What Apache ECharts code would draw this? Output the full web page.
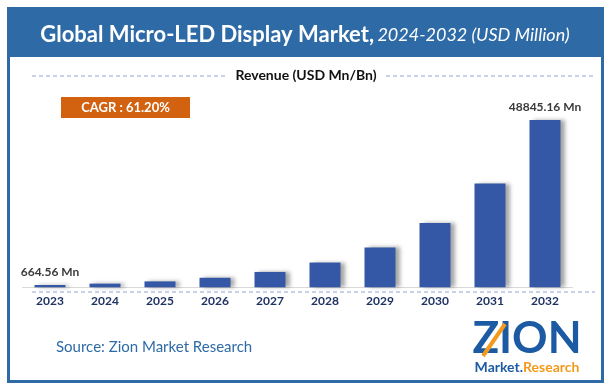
<!DOCTYPE html>
<html>
<head>
<meta charset="utf-8">
<script src="https://cdn.jsdelivr.net/npm/echarts@6/dist/echarts.min.js"></script>
<style>
html,body{margin:0;padding:0;background:#fff;}
#chart{width:612px;height:391px;}
</style>
</head>
<body>
<div id="chart"></div>
<script>
var years = ['2023','2024','2025','2026','2027','2028','2029','2030','2031','2032'];
var revenue = [664.56, 1071, 1727, 2784, 4488, 7234, 11661, 18798, 30302, 48845.16];
var labelTexts = ['664.56 Mn', '', '', '', '', '', '', '', '', '48845.16 Mn'];
var titleMain = 'Global Micro-LED Display Market,';
var titleSub = '2024-2032 (USD Million)';
var subtitle = 'Revenue (USD Mn/Bn)';
var cagrText = 'CAGR : 61.20%';
var sourceText = 'Source: Zion Market Research';

var FONT = 'Lato, "Open Sans", sans-serif';
var chart = echarts.init(document.getElementById('chart'), null, {renderer:'canvas'});

var seriesData = revenue.map(function(v, i){
  var d = {value: v};
  if (labelTexts[i]) {
    d.label = {show: true, formatter: labelTexts[i]};
  }
  return d;
});

chart.setOption({
  animation: false,
  backgroundColor: '#ffffff',
  grid: {left: 22.5, width: 550, top: 99, height: 188.3, containLabel: false},
  xAxis: {
    type: 'category',
    data: years,
    axisLine: {show: true, lineStyle: {color: '#D9D9D9', width: 1}},
    axisTick: {show: false},
    axisLabel: {margin: 8, color: '#1F3264', fontWeight: 'bold', fontSize: 12, fontFamily: FONT}
  },
  yAxis: {
    type: 'value', min: 0, max: 55000,
    show: false, splitLine: {show: false}
  },
  series: [{
    type: 'bar',
    data: seriesData,
    barWidth: 31,
    itemStyle: {
      color: '#3457A6',
      shadowColor: 'rgba(0,0,0,0.35)',
      shadowBlur: 4,
      shadowOffsetX: 4,
      shadowOffsetY: 0
    },
    label: {
      show: false, position: 'top', distance: 7,
      color: '#3A3A3A', fontWeight: 'bold', fontSize: 12, fontFamily: FONT
    }
  }],
  graphic: [
    {type: 'rect', shape: {x: 8, y: 8, width: 595, height: 49}, style: {fill: '#2E6BA6'}, z: 0},
    {type: 'rect', shape: {x: 8.5, y: 8.5, width: 594, height: 373}, style: {fill: null, stroke: '#2E6BA6', lineWidth: 3}, z: 1},
    {type: 'text', x: 305, y: 35, z: 2, style: {
      text: '{a|' + titleMain + '} {b|' + titleSub + '}',
      align: 'center', verticalAlign: 'middle',
      rich: {
        a: {fill: '#ffffff', fontWeight: 'bold', fontSize: 22, fontFamily: FONT},
        b: {fill: '#ffffff', fontStyle: 'italic', fontSize: 18, fontFamily: FONT}
      }
    }},
    {type: 'line', shape: {x1: 32, y1: 76, x2: 226, y2: 76}, style: {stroke: '#8FA6D6', lineWidth: 1, lineDash: [4, 3]}},
    {type: 'line', shape: {x1: 386, y1: 76, x2: 595, y2: 76}, style: {stroke: '#8FA6D6', lineWidth: 1, lineDash: [4, 3]}},
    {type: 'text', x: 306, y: 75, style: {
      text: subtitle, align: 'center', verticalAlign: 'middle',
      fill: '#111111', fontWeight: 'bold', fontSize: 14, fontFamily: FONT
    }},
    {type: 'rect', shape: {x: 61, y: 97, width: 129, height: 21}, style: {fill: '#D2620F'}},
    {type: 'text', x: 125.5, y: 108, style: {
      text: cagrText, align: 'center', verticalAlign: 'middle',
      fill: '#ffffff', fontWeight: 'bold', fontSize: 13, fontFamily: FONT
    }},
    {type: 'line', shape: {x1: 32, y1: 292, x2: 595, y2: 292}, style: {stroke: '#8FA6D6', lineWidth: 1, lineDash: [4, 3]}},
    {type: 'text', x: 56, y: 347, style: {
      text: sourceText, align: 'left', verticalAlign: 'middle',
      fill: '#2E6BA6', fontSize: 15, fontFamily: FONT
    }},
    {type: 'text', x: 527, y: 339, style: {
      text: 'ZION', align: 'center', verticalAlign: 'middle',
      fill: '#1C5AA3', fontWeight: 'bold', fontSize: 44, fontFamily: FONT
    }},
    {type: 'line', shape: {x1: 483, y1: 356, x2: 505, y2: 324}, style: {stroke: '#F39A1E', lineWidth: 4}},
    {type: 'text', x: 527, y: 367, style: {
      text: '{m|Market.}{r|Research}', align: 'center', verticalAlign: 'middle',
      rich: {
        m: {fill: '#1C5AA3', fontWeight: 'bold', fontSize: 14, fontFamily: FONT},
        r: {fill: '#F39A1E', fontWeight: 'bold', fontSize: 14, fontFamily: FONT}
      }
    }}
  ]
});
</script>
</body>
</html>
